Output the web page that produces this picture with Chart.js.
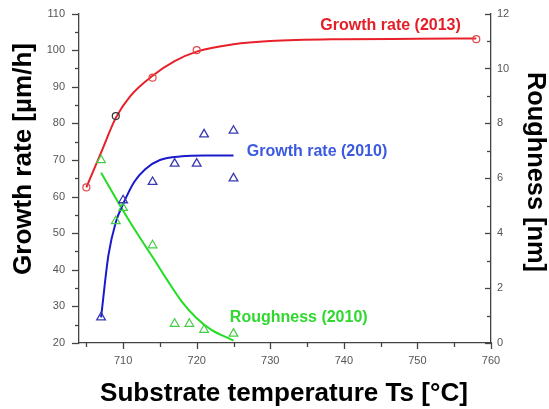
<!DOCTYPE html>
<html>
<head>
<meta charset="utf-8">
<script src="https://cdn.jsdelivr.net/npm/chart.js@4/dist/chart.umd.min.js"></script>
<style>
  html, body { margin: 0; padding: 0; background: #fff; }
  #c { display: block; }
</style>
</head>
<body>
<canvas id="c" width="549" height="409"></canvas>
<script>
// ---- Data ----
// Growth rate (2013): measured points
const growth2013T = [705, 709, 714, 720, 758];
const growth2013V = [62.5, 82, 92.5, 100, 103];
// Growth rate (2013): fitted curve
const growth2013FitT = [705, 707, 709, 711, 714, 717, 720, 725, 730, 740, 750, 758];
const growth2013FitV = [62.5, 72, 81.5, 87.5, 93, 97, 99.6, 101.6, 102.5, 103, 103.1, 103.2];

// Growth rate (2010): measured points
const growth2010T = [707, 710, 714, 717, 720, 721, 725, 725];
const growth2010V = [27, 59, 64, 69, 69, 77, 78, 65];
// Growth rate (2010): fitted curve
const growth2010FitT = [707, 708, 709, 710, 711.5, 713, 715, 718, 721, 725];
const growth2010FitV = [27, 44, 53, 58, 64, 67.5, 70, 71, 71.2, 71.2];

// Roughness (2010): measured points (right axis, nm)
const roughT = [707, 709, 710, 714, 717, 719, 721, 725];
const roughV = [6.66, 4.44, 4.92, 3.56, 0.70, 0.70, 0.48, 0.34];
// Roughness (2010): fitted curve
const roughFitT = [707, 710, 712, 714, 716, 718, 720, 722, 725];
const roughFitV = [6.2, 4.82, 3.95, 3.13, 2.29, 1.5, 0.9, 0.48, 0.09];

// Tick values
const xTicks = [710, 720, 730, 740, 750, 760];
const yLeftTicks = [20, 30, 40, 50, 60, 70, 80, 90, 100, 110];
const yRightTicks = [0, 2, 4, 6, 8, 10, 12];

// Text
const xTitle = 'Substrate temperature Ts [°C]';
const yLeftTitle = 'Growth rate [µm/h]';
const yRightTitle = 'Roughness [nm]';
const seriesNames = ['Growth rate (2013)', 'Growth rate (2010)', 'Roughness (2010)'];

// ---- helpers ----
const pts = (xs, ys) => xs.map((x, i) => ({ x: x, y: ys[i] }));

Chart.defaults.font.family = "'Liberation Sans', Arial, sans-serif";

const RED = '#e8202a', BLUE = '#1a1acc', GREEN = '#22dd22';

// annotation placement (data units) for series labels
const labelAnchors = [
  { x: 736.8, y: 106.7, axis: 'y', color: '#e41e26' },
  { x: 726.8, y: 72.3, axis: 'y', color: '#3c5ae0' },
  { x: 724.5, y: 0.91, axis: 'y1', color: '#2ed82e' }
];

const decorPlugin = {
  id: 'decor',
  afterDraw(chart) {
    const ctx = chart.ctx;
    const xs = chart.scales.x, yl = chart.scales.y, yr = chart.scales.y1;
    const area = chart.chartArea;
    ctx.save();
    ctx.strokeStyle = '#444';
    ctx.lineWidth = 1.3;
    // left axis ticks (outward)
    for (let v = yl.min; v <= yl.max + 1e-9; v += 5) {
      const y = Math.round(yl.getPixelForValue(v)) + 0.5;
      const len = (v % 10 === 0) ? 7 : 4;
      ctx.beginPath(); ctx.moveTo(area.left - len, y); ctx.lineTo(area.left, y); ctx.stroke();
    }
    // bottom axis ticks (outward)
    for (let v = 705; v <= xs.max + 1e-9; v += 5) {
      const x = Math.round(xs.getPixelForValue(v)) + 0.5;
      const len = (v % 10 === 0) ? 6 : 4;
      ctx.beginPath(); ctx.moveTo(x, area.bottom); ctx.lineTo(x, area.bottom + len); ctx.stroke();
    }
    // right axis ticks (inward)
    for (let v = yr.min; v <= yr.max + 1e-9; v += 1) {
      const y = Math.round(yr.getPixelForValue(v)) + 0.5;
      const len = (v % 2 === 0) ? 6 : 4;
      ctx.beginPath(); ctx.moveTo(area.right - len, y); ctx.lineTo(area.right, y); ctx.stroke();
    }
    // series labels
    ctx.font = "bold 16px 'Liberation Sans', Arial, sans-serif";
    ctx.textAlign = 'left';
    ctx.textBaseline = 'middle';
    labelAnchors.forEach((a, i) => {
      ctx.fillStyle = a.color;
      ctx.fillText(seriesNames[i], xs.getPixelForValue(a.x), chart.scales[a.axis].getPixelForValue(a.y));
    });
    // axis titles
    const drawTitle = (text, cx, cy, rot, targetLen) => {
      ctx.save();
      ctx.translate(cx, cy);
      ctx.rotate(rot);
      ctx.font = "bold 25px 'Liberation Sans', Arial, sans-serif";
      const w = ctx.measureText(text).width;
      ctx.scale(targetLen / w, 1);
      ctx.textAlign = 'center';
      ctx.textBaseline = 'alphabetic';
      ctx.fillStyle = '#000';
      ctx.fillText(text, 0, 0);
      ctx.restore();
    };
    drawTitle(xTitle, 284, 401, 0, 368);
    drawTitle(yLeftTitle, 31, 159, -Math.PI / 2, 232);
    drawTitle(yRightTitle, 528, 172, Math.PI / 2, 200);
    ctx.restore();
  }
};

new Chart(document.getElementById('c'), {
  type: 'scatter',
  data: {
    datasets: [
      { label: 'fit2013', data: pts(growth2013FitT, growth2013FitV), showLine: true, pointRadius: 0,
        borderColor: RED, borderWidth: 2, cubicInterpolationMode: 'monotone', yAxisID: 'y', order: 3 },
      { label: seriesNames[0], data: pts(growth2013T, growth2013V), showLine: false, pointStyle: 'circle',
        pointRadius: 3.5, borderWidth: 1.2, backgroundColor: 'rgba(0,0,0,0)',
        borderColor: ['#e04848', '#333333', '#e04848', '#e04848', '#e04848'], yAxisID: 'y', order: 1 },
      { label: 'fit2010', data: pts(growth2010FitT, growth2010FitV), showLine: true, pointRadius: 0,
        borderColor: BLUE, borderWidth: 2, cubicInterpolationMode: 'monotone', yAxisID: 'y', order: 4 },
      { label: seriesNames[1], data: pts(growth2010T, growth2010V), showLine: false, pointStyle: 'triangle',
        pointRadius: 5, borderWidth: 1.3, backgroundColor: 'rgba(0,0,0,0)', borderColor: '#3a3ab0',
        yAxisID: 'y', order: 1 },
      { label: 'fitRough', data: pts(roughFitT, roughFitV), showLine: true, pointRadius: 0,
        borderColor: GREEN, borderWidth: 2, cubicInterpolationMode: 'monotone', yAxisID: 'y1', order: 5 },
      { label: seriesNames[2], data: pts(roughT, roughV), showLine: false, pointStyle: 'triangle',
        pointRadius: 5, borderWidth: 1.2, backgroundColor: 'rgba(0,0,0,0)', borderColor: '#44cc44',
        yAxisID: 'y1', order: 1 }
    ]
  },
  options: {
    responsive: false,
    animation: false,
    devicePixelRatio: 1,
    layout: { padding: { top: 12, left: 0, right: 0, bottom: 0 } },
    plugins: { legend: { display: false }, tooltip: { enabled: false } },
    scales: {
      x: {
        type: 'linear', min: 704, max: 760,
        afterBuildTicks: (s) => { s.ticks = xTicks.map(v => ({ value: v })); },
        afterFit: (s) => { s.height = 66; },
        ticks: { color: '#555', font: { size: 11 }, padding: 5, maxRotation: 0 },
        grid: { display: true, drawOnChartArea: false, drawTicks: true, tickLength: 6, color: 'rgba(0,0,0,0)' },
        border: { display: true, color: '#444', width: 1.3 }
      },
      y: {
        type: 'linear', position: 'left', min: 20, max: 110,
        afterBuildTicks: (s) => { s.ticks = yLeftTicks.map(v => ({ value: v })); },
        afterFit: (s) => { s.width = 79; },
        ticks: { color: '#555', font: { size: 11 }, padding: 7 },
        grid: { display: true, drawOnChartArea: false, drawTicks: true, tickLength: 7, color: 'rgba(0,0,0,0)' },
        border: { display: true, color: '#444', width: 1.3 }
      },
      y1: {
        type: 'linear', position: 'right', min: 0, max: 12,
        afterBuildTicks: (s) => { s.ticks = yRightTicks.map(v => ({ value: v })); },
        afterFit: (s) => { s.width = 58; },
        ticks: { color: '#555', font: { size: 11 }, padding: 6 },
        grid: { display: true, drawOnChartArea: false, drawTicks: false, color: 'rgba(0,0,0,0)' },
        border: { display: true, color: '#444', width: 1.3 }
      }
    }
  },
  plugins: [decorPlugin]
});
</script>
</body>
</html>
